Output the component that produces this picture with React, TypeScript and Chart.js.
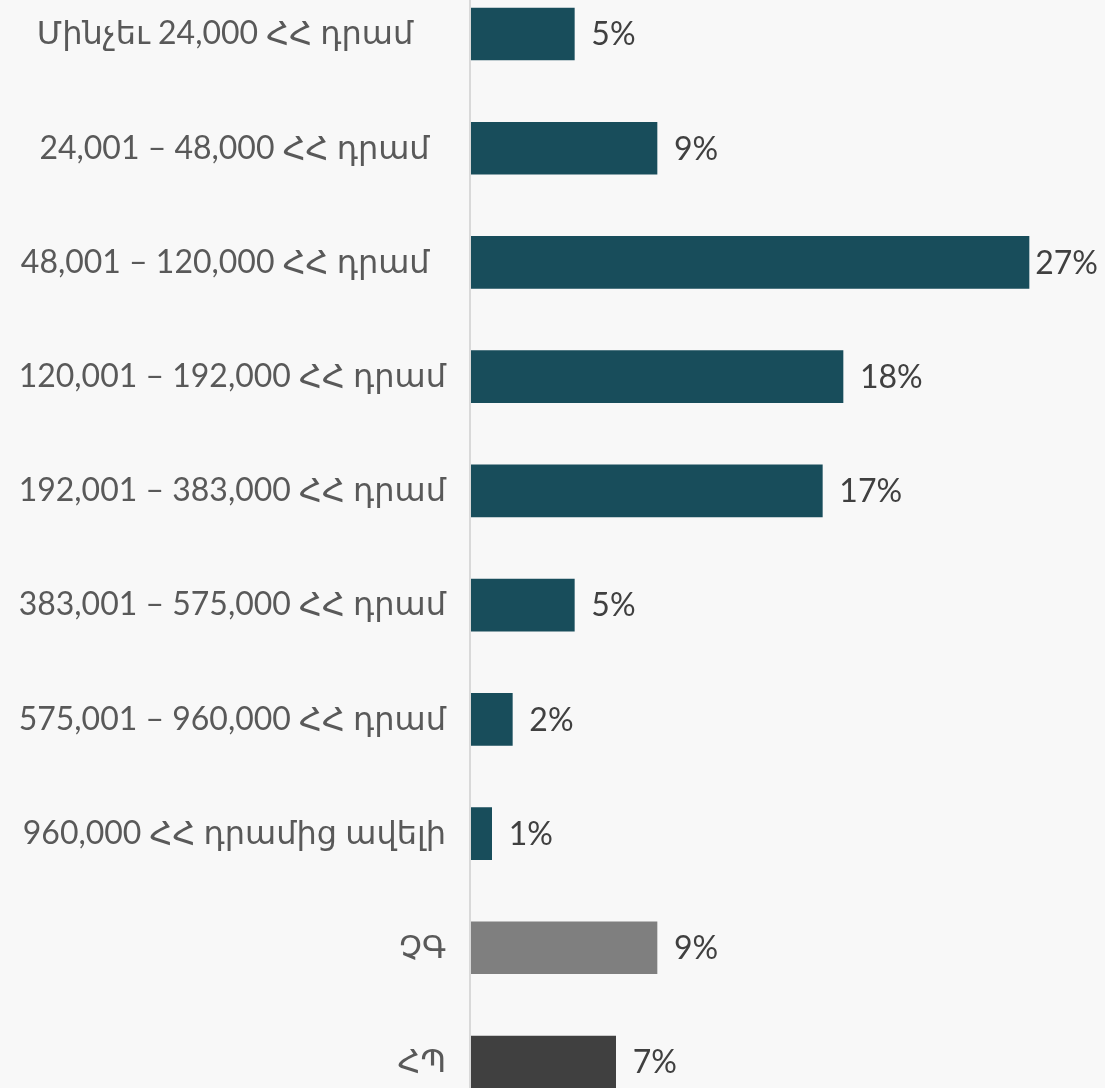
import React, { useEffect, useRef } from "react";
import { Chart, registerables } from "chart.js";

Chart.register(...registerables);

const categories: string[] = [
  "Մինչեւ 24,000 ՀՀ դրամ    ",
  "24,001 – 48,000 ՀՀ դրամ  ",
  "48,001 – 120,000 ՀՀ դրամ  ",
  "120,001 – 192,000 ՀՀ դրամ",
  "192,001 – 383,000 ՀՀ դրամ",
  "383,001 – 575,000 ՀՀ դրամ",
  "575,001 – 960,000 ՀՀ դրամ",
  "960,000 ՀՀ դրամից ավելի",
  "ՉԳ",
  "ՀՊ",
];

const values: number[] = [5, 9, 27, 18, 17, 5, 2, 1, 9, 7];

const valueLabels: string[] = ["5%", "9%", "27%", "18%", "17%", "5%", "2%", "1%", "9%", "7%"];

const barColors: string[] = [
  "#184d5b", "#184d5b", "#184d5b", "#184d5b", "#184d5b",
  "#184d5b", "#184d5b", "#184d5b", "#7f7f7f", "#404040",
];

const FONT = "Lato, 'DejaVu Sans', sans-serif";

export default function App() {
  const ref = useRef<HTMLCanvasElement | null>(null);

  useEffect(() => {
    document.body.style.margin = "0";
    document.body.style.background = "#f8f8f8";
    const canvas = ref.current;
    if (!canvas) return;

    const bgPlugin = {
      id: "bg",
      beforeDraw(chart: any) {
        const { ctx, width, height } = chart;
        ctx.save();
        ctx.fillStyle = "#f8f8f8";
        ctx.fillRect(0, 0, width, height);
        ctx.restore();
      },
    };

    const axisLinePlugin = {
      id: "axisLine",
      afterDatasetsDraw(chart: any) {
        const { ctx, chartArea, height } = chart;
        ctx.save();
        ctx.strokeStyle = "#d9d9d9";
        ctx.lineWidth = 2;
        ctx.beginPath();
        ctx.moveTo(chartArea.left - 1, 0);
        ctx.lineTo(chartArea.left - 1, height);
        ctx.stroke();
        ctx.restore();
      },
    };

    const valueLabelPlugin = {
      id: "valueLabels",
      afterDatasetsDraw(chart: any) {
        const { ctx, width } = chart;
        const meta = chart.getDatasetMeta(0);
        ctx.save();
        ctx.font = `32px ${FONT}`;
        ctx.fillStyle = "#404040";
        ctx.textAlign = "left";
        ctx.textBaseline = "middle";
        meta.data.forEach((bar: any, i: number) => {
          const text = valueLabels[i];
          const w = ctx.measureText(text).width;
          let x = bar.x + 17;
          if (x + w > width - 7) x = width - 7 - w;
          ctx.fillText(text, x, bar.y + 1);
        });
        ctx.restore();
      },
    };

    const chart = new Chart(canvas, {
      type: "bar",
      data: {
        labels: categories,
        datasets: [
          {
            data: values,
            backgroundColor: barColors,
            borderWidth: 0,
            barThickness: 52,
            clip: false as any,
          },
        ],
      },
      options: {
        indexAxis: "y",
        animation: false,
        responsive: false,
        maintainAspectRatio: false,
        layout: { padding: { top: 34, bottom: 26, left: 0, right: 14 } },
        plugins: {
          legend: { display: false },
          tooltip: { enabled: false },
        },
        scales: {
          x: {
            display: false,
            min: 0,
            max: 30,
          },
          y: {
            type: "category",
            offset: false,
            grid: { display: false, drawTicks: false },
            border: { display: false },
            ticks: {
              color: "#595959",
              padding: 25,
              font: { size: 32, family: FONT },
            },
            afterFit(scale: any) {
              scale.width = 471;
              scale.paddingTop = 0;
              scale.paddingBottom = 0;
            },
          },
        },
      },
      plugins: [bgPlugin, axisLinePlugin, valueLabelPlugin],
    });

    return () => chart.destroy();
  }, []);

  return (
    <div style={{ width: 1105, height: 1088, background: "#f8f8f8", overflow: "hidden" }}>
      <canvas ref={ref} width={1105} height={1088} style={{ display: "block" }} />
    </div>
  );
}
